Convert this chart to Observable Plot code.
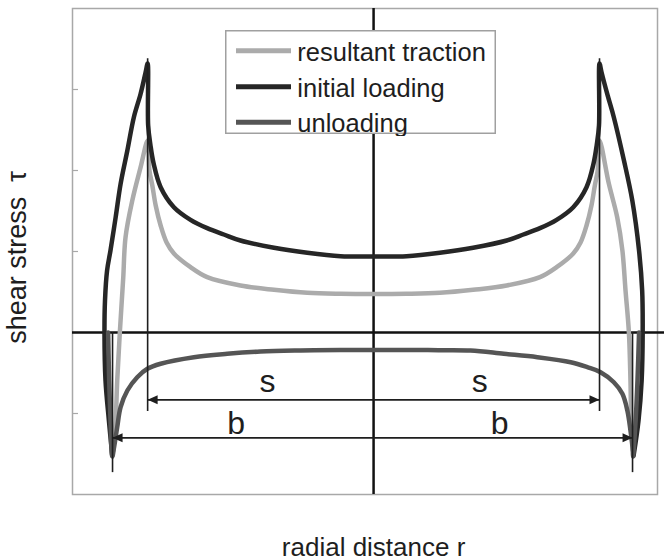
<!DOCTYPE html>
<html>
<head>
<meta charset="utf-8">
<script src="https://cdn.jsdelivr.net/npm/d3@7"></script>
<script src="https://cdn.jsdelivr.net/npm/@observablehq/plot@0.6"></script>
<style>
  body { margin: 0; background: #fff; }
  #chart { position: relative; width: 664px; height: 560px; font-family: "Liberation Sans", Arial, sans-serif; }
  #legend { position: absolute; left: 225px; top: 30px; }
</style>
</head>
<body>
<div id="chart"></div>
<script>
// Radial position r is expressed in units of the contact radius b.
const xDomain = [-1.158, 1.092];
const yDomain = [-2, 4];
const yTicks = [-1, 0, 1, 2, 3];

const seriesNames = ["resultant traction", "initial loading", "unloading"];
const seriesColors = ["#ababab", "#262626", "#555555"];

// initial loading
const rLoading = [-1.005, -1.018, -1.031, -1.035, -1.033, -1.025, -1.012, -0.992, -0.973, -0.947, -0.922, -0.896, -0.877, -0.869,
  -0.867, -0.858, -0.846, -0.819, -0.768, -0.704, -0.640, -0.576, -0.512, -0.383, -0.255, -0.127,
  0,
  0.127, 0.255, 0.383, 0.512, 0.576, 0.640, 0.704, 0.768, 0.819, 0.846, 0.858, 0.867,
  0.869, 0.877, 0.900, 0.924, 0.963, 0.995, 1.021, 1.033, 1.035, 1.031, 1.019, 1.000];
const tauLoading = [-1.52, -1.086, -0.593, 0, 0.395, 0.765, 1.012, 1.423, 1.836, 2.247, 2.658, 2.947, 3.21, 3.32,
  2.556, 2.309, 2.086, 1.794, 1.547, 1.391, 1.288, 1.210, 1.136, 1.046, 0.984, 0.942,
  0.938,
  0.942, 0.984, 1.046, 1.136, 1.210, 1.288, 1.391, 1.547, 1.794, 2.086, 2.309, 2.556,
  3.32, 3.21, 2.93, 2.658, 2.123, 1.63, 1.012, 0.519, 0, -0.593, -1.086, -1.52];

// resultant traction
const rResultant = [-1.001, -0.992, -0.986, -0.976, -0.963, -0.954, -0.928, -0.896, -0.869,
  -0.862, -0.851, -0.838, -0.819, -0.796, -0.768, -0.704, -0.640, -0.512, -0.383, -0.255, -0.127,
  0,
  0.127, 0.255, 0.383, 0.512, 0.640, 0.704, 0.768, 0.796, 0.819, 0.838, 0.851, 0.862,
  0.869, 0.905, 0.937, 0.957, 0.969, 0.982, 0.988, 0.991, 0.997];
const tauResultant = [-1.457, -1.086, -0.593, 0, 0.667, 1.177, 1.630, 2.041, 2.370,
  2.0, 1.815, 1.568, 1.321, 1.111, 0.975, 0.806, 0.683, 0.580, 0.527, 0.490, 0.478,
  0.475,
  0.478, 0.490, 0.527, 0.580, 0.683, 0.806, 0.975, 1.111, 1.321, 1.568, 1.815, 2.0,
  2.370, 1.835, 1.423, 1.012, 0.519, 0, -0.593, -1.086, -1.457];

// unloading
const rUnloading = [-1.021, -1.017, -1.012, -1.005, -0.998, -0.986, -0.973, -0.947, -0.909, -0.870, -0.819, -0.691, -0.563, -0.435, -0.281, -0.127,
  0,
  0.127, 0.25, 0.373, 0.501, 0.630, 0.758, 0.822, 0.873, 0.924, 0.957, 0.976, 0.988, 0.997, 0.998, 1.008, 1.015, 1.021];
const tauUnloading = [0, -0.593, -1.086, -1.531, -1.416, -1.169, -0.922, -0.716, -0.552, -0.448, -0.386, -0.305, -0.263, -0.235, -0.222, -0.216,
  -0.216,
  -0.216, -0.218, -0.222, -0.263, -0.305, -0.367, -0.428, -0.490, -0.614, -0.757, -0.963, -1.210, -1.457, -1.531, -1.086, -0.593, 0];

// stick radius s and contact radius b markers
const sMarkR = [-0.869, 0.869];
const sMarkSpan = [3.38, -0.975];
const bMarkR = [-1.004, 0.996];
const bMarkSpan = [0, -1.73];
const arrowEnds = [-0.869, 0.869, -1.004, 0.996];
const arrowTau = [-0.831, -0.831, -1.3, -1.3];
const dimLabels = ["s", "s", "b", "b"];
const dimLabelR = [-0.408, 0.408, -0.529, 0.485];
const dimLabelTau = [-0.611, -0.611, -1.124, -1.124];
const axisRightEnd = 1.119;

const xTitle = "radial distance r";
const yTitle = "shear stress\u00a0\u00a0\u03c4";

const pts = (r, tau) => r.map((d, i) => ({r: d, tau: tau[i]}));
const resultant = pts(rResultant, tauResultant);
const loading = pts(rLoading, tauLoading);
const unloading = pts(rUnloading, tauUnloading);
const arrows = arrowEnds.map((e, i) => ({end: e, tau: arrowTau[i]}));
const labels = dimLabels.map((t, i) => ({text: t, r: dimLabelR[i], tau: dimLabelTau[i]}));

// filled arrowhead with its tip at the origin, pointing right
const arrowHead = {
  draw(context) {
    context.moveTo(0, 0);
    context.lineTo(-10, -4.5);
    context.lineTo(-10, 4.5);
    context.closePath();
  }
};

const W = 664, H = 560, mL = 72, mR = 7, mT = 8, mB = 66;
const ink = "#1e1e1e";
const frameGray = "#a8a8a8";
const curveStyle = {x: "r", y: "tau", strokeWidth: 4.5, curve: "catmull-rom"};

const chart = Plot.plot({
  width: W,
  height: H,
  marginLeft: mL,
  marginRight: mR,
  marginTop: mT,
  marginBottom: mB,
  x: {domain: xDomain, axis: null},
  y: {domain: yDomain, axis: null},
  style: {fontFamily: "'Liberation Sans', Arial, sans-serif", background: "#fff", overflow: "visible"},
  marks: [
    Plot.frame({stroke: frameGray, strokeWidth: 1.5}),
    Plot.tickY(yTicks, {stroke: frameGray, strokeWidth: 1.2, insetRight: W - mL - mR - 6}),
    Plot.ruleY([0], {x1: xDomain[0], x2: axisRightEnd, stroke: "#111", strokeWidth: 2.5}),
    Plot.ruleX([0], {stroke: "#111", strokeWidth: 2.5}),
    Plot.line(resultant, {...curveStyle, stroke: seriesColors[0]}),
    Plot.line(loading, {...curveStyle, stroke: seriesColors[1]}),
    Plot.line(unloading, {...curveStyle, stroke: seriesColors[2]}),
    Plot.ruleX(sMarkR, {y1: sMarkSpan[0], y2: sMarkSpan[1], stroke: ink, strokeWidth: 1.6}),
    Plot.ruleX(bMarkR, {y1: bMarkSpan[0], y2: bMarkSpan[1], stroke: ink, strokeWidth: 1.6}),
    Plot.ruleY(arrows, {y: "tau", x1: 0, x2: "end", stroke: ink, strokeWidth: 1.7}),
    Plot.dot(arrows, {x: "end", y: "tau", symbol: arrowHead, rotate: d => d.end < 0 ? 180 : 0, fill: ink, stroke: "none"}),
    Plot.text(labels, {x: "r", y: "tau", text: "text", fontSize: 32, fill: ink, lineAnchor: "middle"}),
    Plot.text([xTitle], {x: 0, frameAnchor: "bottom", textAnchor: "middle", lineAnchor: "middle", dy: 52.7, fontSize: 26, fill: ink}),
    Plot.text([yTitle], {frameAnchor: "left", textAnchor: "middle", lineAnchor: "middle", rotate: -90, dx: -55.3, dy: 6, fontSize: 27, fill: ink})
  ]
});

const host = document.getElementById("chart");
host.appendChild(chart);

// legend box with line samples
const lg = d3.create("svg")
  .attr("id", "legend")
  .attr("width", 272)
  .attr("height", 106);
lg.append("rect")
  .attr("x", 0.75).attr("y", 0.75)
  .attr("width", 269.5).attr("height", 102.5)
  .attr("fill", "#fff")
  .attr("stroke", "#a0a0a0")
  .attr("stroke-width", 1.5);
const rowY = [20.7, 56.7, 92.3];
seriesNames.forEach((name, i) => {
  lg.append("line")
    .attr("x1", 11).attr("x2", 66)
    .attr("y1", rowY[i]).attr("y2", rowY[i])
    .attr("stroke", seriesColors[i])
    .attr("stroke-width", 5);
  lg.append("text")
    .attr("x", 72.3)
    .attr("y", rowY[i] + 10)
    .attr("font-family", "'Liberation Sans', Arial, sans-serif")
    .attr("font-size", 25.5)
    .attr("fill", ink)
    .text(name);
});
host.appendChild(lg.node());
</script>
</body>
</html>
